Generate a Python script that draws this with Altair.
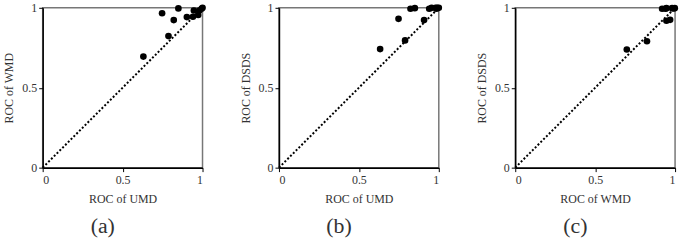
import altair as alt
import pandas as pd

# Panel (a): UMD vs WMD
a_x = [0.63, 0.747, 0.849, 0.82, 0.787, 0.902, 0.946, 0.94, 0.973, 0.98, 0.994, 1.0]
a_y = [0.695, 0.966, 0.996, 0.923, 0.823, 0.942, 0.983, 0.944, 0.955, 0.983, 0.994, 1.0]
# Panel (b): UMD vs DSDS
b_x = [0.633, 0.748, 0.789, 0.823, 0.85, 0.908, 0.94, 0.955, 0.98, 0.99, 1.0, 0.985]
b_y = [0.742, 0.931, 0.796, 0.994, 0.998, 0.923, 0.994, 1.0, 1.0, 1.0, 1.0, 0.994]
# Panel (c): WMD vs DSDS
c_x = [0.698, 0.824, 0.919, 0.946, 0.981, 0.998, 0.946, 0.969, 0.94, 0.99]
c_y = [0.739, 0.791, 0.994, 0.998, 0.998, 0.998, 0.919, 0.925, 0.994, 0.996]

diag = [0.0, 1.0]
ticks = [0, 0.5, 1]

FONT = "Liberation Serif"
TXT = "#333333"


def panel(xs, ys, xtitle, ytitle, label):
    pts = pd.DataFrame({"x": xs, "y": ys})
    dl = pd.DataFrame({"x": diag, "y": diag})
    xsc = alt.Scale(domain=[0, 1], nice=False, zero=True)
    ysc = alt.Scale(domain=[0, 1], nice=False, zero=True)
    xax = alt.Axis(values=ticks, format="~g", title=xtitle, grid=False,
                   tickSize=4, labelPadding=3, titlePadding=8)
    yax = alt.Axis(values=ticks, format="~g", title=ytitle, grid=False,
                   tickSize=4, labelPadding=2, titlePadding=6)
    line = alt.Chart(dl).mark_line(color="black", strokeDash=[2, 2], strokeWidth=2, clip=False).encode(
        x=alt.X("x:Q", scale=xsc, axis=xax),
        y=alt.Y("y:Q", scale=ysc, axis=yax),
    )
    dots = alt.Chart(pts).mark_circle(color="black", opacity=1, size=45, clip=False).encode(
        x=alt.X("x:Q", scale=xsc, axis=xax),
        y=alt.Y("y:Q", scale=ysc, axis=yax),
    )
    return alt.layer(line, dots).properties(
        width=161, height=161,
        title=alt.TitleParams(label, orient="bottom", fontSize=22, font=FONT,
                              fontWeight="normal", color=TXT, offset=12, dx=-20),
    )


chart = alt.hconcat(
    panel(a_x, a_y, "ROC of UMD", "ROC of WMD", "(a)"),
    panel(b_x, b_y, "ROC of UMD", "ROC of DSDS", "(b)"),
    panel(c_x, c_y, "ROC of WMD", "ROC of DSDS", "(c)"),
    spacing=31,
).configure_view(
    stroke="#777777", strokeWidth=1.5
).configure_axis(
    domainColor="black", domainWidth=1.5, tickColor="black", tickWidth=1,
    labelFont=FONT, titleFont=FONT, labelFontSize=12, titleFontSize=12,
    labelColor=TXT, titleColor=TXT, titleFontWeight="normal",
).properties(
    padding={"left": 2, "top": 0, "right": 5, "bottom": 0}, background="white"
)

chart.save("out.html", embed_options={"renderer": "svg", "actions": False})
